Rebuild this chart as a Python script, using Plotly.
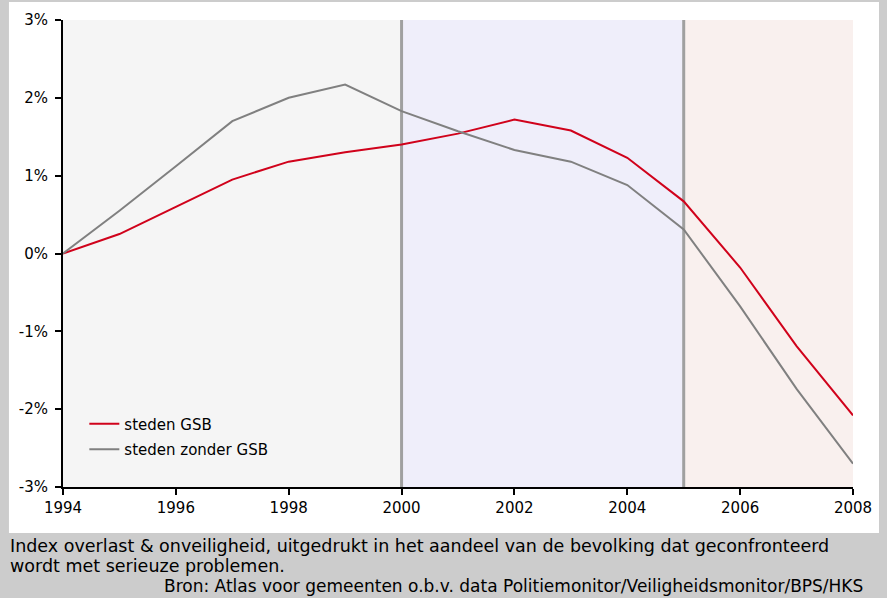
import plotly.graph_objects as go

years = list(range(1994, 2009))
gsb = [0.00, 0.25, 0.60, 0.95, 1.18, 1.30, 1.40, 1.54, 1.72, 1.58, 1.23, 0.67, -0.18, -1.19, -2.08]
zonder = [0.00, 0.55, 1.12, 1.70, 2.00, 2.17, 1.83, 1.57, 1.33, 1.18, 0.88, 0.31, -0.68, -1.74, -2.70]

periods = [(1994, 2000, "#f5f5f5"), (2000, 2005, "#efeefa"), (2005, 2008, "#f9f0ee")]
dividers = [2000, 2005]

ytick_vals = [-3, -2, -1, 0, 1, 2, 3]
ytick_text = ["-3%", "-2%", "-1%", "0%", "1%", "2%", "3%"]
xtick_vals = [1994, 1996, 1998, 2000, 2002, 2004, 2006, 2008]

caption_lines = ["Index overlast & onveiligheid, uitgedrukt in het aandeel van de bevolking dat geconfronteerd",
                 "wordt met serieuze problemen."]
source = "Bron: Atlas voor gemeenten o.b.v. data Politiemonitor/Veiligheidsmonitor/BPS/HKS"

FONT = "DejaVu Sans"

fig = go.Figure()
fig.add_trace(go.Scatter(x=years, y=gsb, mode="lines", name="steden GSB",
                         line=dict(color="#d0021b", width=2), legendgroup="a"))
fig.add_trace(go.Scatter(x=years, y=zonder, mode="lines", name="steden zonder GSB",
                         line=dict(color="#808080", width=2), legendgroup="b"))

shapes = [dict(type="rect", xref="paper", yref="paper", x0=-0.0684, x1=1.0329, y0=-0.0985, y1=1.0385,
               fillcolor="white", line=dict(width=0), layer="below")]
for x0, x1, c in periods:
    shapes.append(dict(type="rect", xref="x", yref="y", x0=x0, x1=x1, y0=-3, y1=3,
                       fillcolor=c, line=dict(width=0), layer="below"))
for d in dividers:
    shapes.append(dict(type="line", xref="x", yref="y", x0=d, x1=d, y0=-3, y1=3,
                       line=dict(color="#a0a0a0", width=3), layer="below"))

annotations = []
for i, line in enumerate(caption_lines):
    annotations.append(dict(text=line, xref="paper", yref="paper", x=-0.069, y=-0.1265 - i * 0.0418,
                            xanchor="left", yanchor="middle", align="left", showarrow=False,
                            font=dict(size=17.5, family=FONT)))
annotations.append(dict(text=source, xref="paper", yref="paper", x=1.0152, y=-0.2115, xanchor="right",
                        yanchor="middle", align="right", showarrow=False, font=dict(size=17, family=FONT)))

fig.update_layout(
    width=887, height=598,
    margin=dict(l=63, r=34, t=20, b=111),
    paper_bgcolor="#cccccc", plot_bgcolor="rgba(0,0,0,0)",
    font=dict(family=FONT, size=15, color="black"),
    shapes=shapes,
    showlegend=True,
    legend=dict(x=0.027, y=0.17, xanchor="left", yanchor="top", bgcolor="rgba(0,0,0,0)",
                font=dict(size=15), itemwidth=30, tracegroupgap=3, traceorder="grouped"),
    xaxis=dict(range=[1994, 2008], tickvals=xtick_vals, showgrid=False, zeroline=False,
               showline=True, linecolor="black", linewidth=2, ticks="outside", ticklen=6,
               tickwidth=2, tickcolor="black", tickfont=dict(size=15)),
    yaxis=dict(range=[-3, 3], tickvals=ytick_vals, ticktext=ytick_text, showgrid=False,
               zeroline=False, showline=True, linecolor="black", linewidth=2, ticks="outside",
               ticklen=6, tickwidth=2, tickcolor="black", tickfont=dict(size=15),
               ticklabelstandoff=4),
    annotations=annotations,
)

fig.write_html("out.html", post_script="document.body.style.margin='0';",
               config={"displayModeBar": False})
